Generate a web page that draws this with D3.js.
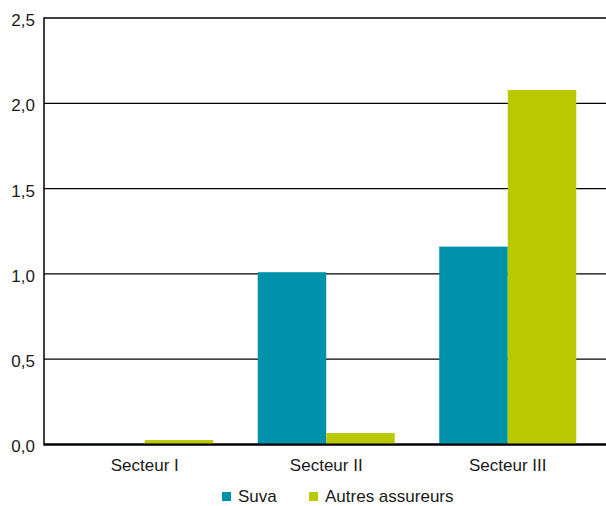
<!DOCTYPE html>
<html>
<head>
<meta charset="utf-8">
<script src="https://cdn.jsdelivr.net/npm/d3@7"></script>
<style>
  body { margin: 0; background: #fff; }
  svg { display: block; font-family: "Liberation Sans", Arial, sans-serif; }
</style>
</head>
<body>
<div id="chart"></div>
<script>
const categories = ["Secteur I", "Secteur II", "Secteur III"];
const seriesNames = ["Suva", "Autres assureurs"];
const suva = [0.005, 1.01, 1.16];
const autres = [0.026, 0.067, 2.078];
const yTicks = [0, 0.5, 1.0, 1.5, 2.0, 2.5];
const colors = ["#0092ab", "#bac800"];

const width = 606, height = 506;
const plotLeft = 44, plotRight = 606, plotTop = 18, plotBottom = 444.5;

const svg = d3.select("#chart").append("svg")
  .attr("width", width)
  .attr("height", height);

const y = d3.scaleLinear().domain([0, 2.5]).range([plotBottom, plotTop]);

const x0 = d3.scaleBand()
  .domain(categories)
  .range([54, 598.5])
  .paddingInner(0.245)
  .paddingOuter(0.1225);

const x1 = d3.scaleBand()
  .domain(seriesNames)
  .range([0, x0.bandwidth()]);

const color = d3.scaleOrdinal().domain(seriesNames).range(colors);
const fmt = d => d3.format(".1f")(d).replace(".", ",");

// grid lines
svg.append("g")
  .selectAll("line")
  .data(yTicks)
  .join("line")
  .attr("x1", plotLeft)
  .attr("x2", plotRight)
  .attr("y1", d => y(d))
  .attr("y2", d => y(d))
  .attr("stroke", "#000")
  .attr("stroke-width", d => d === 0 ? 2 : 1.3);

// tick labels
svg.append("g")
  .selectAll("text")
  .data(yTicks)
  .join("text")
  .attr("x", 35)
  .attr("y", d => y(d))
  .attr("dy", "0.47em")
  .attr("text-anchor", "end")
  .attr("font-size", 17)
  .attr("fill", "#1a1a1a")
  .text(fmt);

// bars
const rows = categories.map((c, i) => ({ cat: c, vals: [suva[i], autres[i]] }));

svg.append("g")
  .selectAll("g")
  .data(rows)
  .join("g")
  .attr("transform", d => `translate(${x0(d.cat)},0)`)
  .selectAll("rect")
  .data(d => d.vals.map((v, j) => ({ key: seriesNames[j], value: v })))
  .join("rect")
  .attr("x", d => x1(d.key))
  .attr("width", x1.bandwidth())
  .attr("y", d => y(d.value))
  .attr("height", d => plotBottom - y(d.value))
  .attr("fill", d => color(d.key));

// baseline and left axis on top
svg.append("line")
  .attr("x1", plotLeft).attr("x2", plotRight)
  .attr("y1", plotBottom).attr("y2", plotBottom)
  .attr("stroke", "#000").attr("stroke-width", 2);
svg.append("line")
  .attr("x1", plotLeft).attr("x2", plotLeft)
  .attr("y1", plotTop - 0.7).attr("y2", plotBottom + 1)
  .attr("stroke", "#000").attr("stroke-width", 1.5);

// category labels
svg.append("g")
  .selectAll("text")
  .data(categories)
  .join("text")
  .attr("x", d => x0(d) + x0.bandwidth() / 2)
  .attr("y", 471)
  .attr("text-anchor", "middle")
  .attr("font-size", 17)
  .attr("fill", "#1a1a1a")
  .text(d => d);

// legend
const legendX = [222, 309];
const legend = svg.append("g")
  .selectAll("g")
  .data(seriesNames)
  .join("g")
  .attr("transform", (d, i) => `translate(${legendX[i]},492)`);
legend.append("rect")
  .attr("width", 9).attr("height", 9)
  .attr("fill", d => color(d));
legend.append("text")
  .attr("x", 16)
  .attr("y", 9.5)
  .attr("font-size", 17)
  .attr("fill", "#1a1a1a")
  .text(d => d);
</script>
</body>
</html>
